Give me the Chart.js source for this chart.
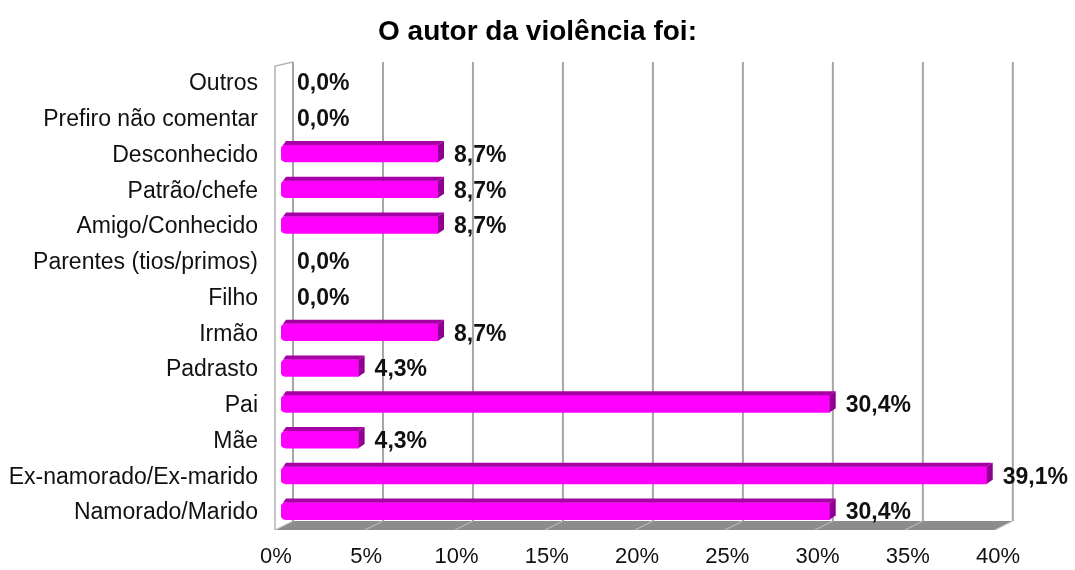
<!DOCTYPE html>
<html>
<head>
<meta charset="utf-8">
<script src="https://cdn.jsdelivr.net/npm/chart.js@4/dist/chart.umd.min.js"></script>
<style>
  html, body { margin: 0; padding: 0; background: #fff; }
  #wrap { width: 1075px; height: 570px; }
</style>
</head>
<body>
<div id="wrap"><canvas id="chart" width="1075" height="570"></canvas></div>
<script>
// categories top to bottom, as in the picture
const categories = [
  'Outros',
  'Prefiro não comentar',
  'Desconhecido',
  'Patrão/chefe',
  'Amigo/Conhecido',
  'Parentes (tios/primos)',
  'Filho',
  'Irmão',
  'Padrasto',
  'Pai',
  'Mãe',
  'Ex-namorado/Ex-marido',
  'Namorado/Marido'
]
const percents = [0, 0, 8.7, 8.7, 8.7, 0, 0, 8.7, 4.3, 30.4, 4.3, 39.1, 30.4]
const xTicks = [0, 5, 10, 15, 20, 25, 30, 35, 40]

const FONT = '"Liberation Sans", Arial, sans-serif'
const DEPTH_X = 6
const DEPTH_Y = 4

// back wall, floor and gridlines of the 3d box
const box3d = {
  id: 'box3d',
  beforeDatasetsDraw(chart) {
    const { ctx, chartArea: a, scales: { x } } = chart
    const backX = v => a.left + 12 + (x.getPixelForValue(v) - a.left) * 0.997
    const frontX = v => a.left - 6 + (x.getPixelForValue(v) - a.left) * 0.997
    const top = a.top - 2
    const floorBack = a.bottom - 8
    const floorFront = a.bottom + 1

    ctx.save()
    // floor
    ctx.fillStyle = '#8c8c8c'
    ctx.beginPath()
    ctx.moveTo(backX(0), floorBack)
    ctx.lineTo(backX(40), floorBack)
    ctx.lineTo(frontX(40), floorFront)
    ctx.lineTo(frontX(0), floorFront)
    ctx.closePath()
    ctx.fill()

    ctx.strokeStyle = '#c4c4c4'
    ctx.lineWidth = 1
    xTicks.forEach(v => {
      ctx.beginPath()
      ctx.moveTo(backX(v), floorBack)
      ctx.lineTo(frontX(v), floorFront)
      ctx.stroke()
    })

    // left wall
    ctx.strokeStyle = '#b4b4b4'
    ctx.lineWidth = 1.5
    ctx.beginPath()
    ctx.moveTo(frontX(0), floorFront)
    ctx.lineTo(frontX(0), top + 4)
    ctx.lineTo(backX(0), top)
    ctx.stroke()

    // back gridlines
    ctx.strokeStyle = '#a6a6a6'
    ctx.lineWidth = 2
    xTicks.forEach(v => {
      ctx.beginPath()
      ctx.moveTo(backX(v), top)
      ctx.lineTo(backX(v), floorBack)
      ctx.stroke()
    })
    ctx.restore()
  },

  afterDatasetsDraw(chart) {
    const { ctx } = chart
    const meta = chart.getDatasetMeta(0)
    ctx.save()
    meta.data.forEach((bar, i) => {
      const { x: ex, y: ey, base, height: h } = bar.getProps(['x', 'y', 'base', 'height'], true)
      const top = ey - h / 2
      const bottom = ey + h / 2

      if (percents[i] > 0) {
        // top face
        ctx.fillStyle = '#a400a4'
        ctx.beginPath()
        ctx.moveTo(base + 2, top)
        ctx.lineTo(base + 2 + DEPTH_X / 2, top - DEPTH_Y)
        ctx.lineTo(ex + DEPTH_X, top - DEPTH_Y)
        ctx.lineTo(ex, top)
        ctx.closePath()
        ctx.fill()
        // end face
        ctx.fillStyle = '#8f008f'
        ctx.beginPath()
        ctx.moveTo(ex, top)
        ctx.lineTo(ex + DEPTH_X, top - DEPTH_Y)
        ctx.lineTo(ex + DEPTH_X, bottom - DEPTH_Y)
        ctx.lineTo(ex, bottom)
        ctx.closePath()
        ctx.fill()
      }

      // value label
      ctx.fillStyle = '#111'
      ctx.font = 'bold 23px ' + FONT
      ctx.textAlign = 'left'
      ctx.textBaseline = 'middle'
      ctx.fillText(percents[i].toFixed(1).replace('.', ',') + '%', ex + 16, ey + 2)
    })
    ctx.restore()
  }
}

new Chart(document.getElementById('chart'), {
  type: 'bar',
  data: {
    labels: categories,
    datasets: [{
      data: percents,
      backgroundColor: percents.map(v => v > 0 ? '#ff00ff' : 'rgba(0,0,0,0)'),
      barThickness: 17,
      borderSkipped: false,
      borderRadius: { topLeft: 5, bottomLeft: 5, topRight: 0, bottomRight: 0 }
    }]
  },
  options: {
    indexAxis: 'y',
    responsive: false,
    animation: false,
    layout: { padding: 0 },
    plugins: {
      legend: { display: false },
      tooltip: { enabled: false },
      title: {
        display: true,
        text: 'O autor da violência foi:',
        color: '#000',
        font: { family: FONT, size: 28, weight: 'bold' },
        padding: { top: 15, bottom: 15.4 }
      }
    },
    scales: {
      x: {
        min: 0,
        max: 40,
        afterFit: s => { s.height = 41 },
        afterBuildTicks: s => { s.ticks = xTicks.map(v => ({ value: v })) },
        grid: { display: false, drawTicks: false },
        border: { display: false },
        ticks: {
          padding: 15,
          labelOffset: -5,
          color: '#111',
          font: { family: FONT, size: 22 },
          callback: v => v + '%'
        }
      },
      y: {
        afterFit: s => { s.width = 281 },
        grid: { display: false, drawTicks: false },
        border: { display: false },
        ticks: {
          padding: 23,
          labelOffset: 2,
          color: '#111',
          font: { family: FONT, size: 23 }
        }
      },
      // empty right margin so the title centres on the whole canvas
      yRight: {
        position: 'right',
        afterFit: s => { s.width = 72 },
        grid: { display: false, drawTicks: false },
        border: { display: false },
        ticks: { display: false }
      }
    }
  },
  plugins: [box3d]
})
</script>
</body>
</html>
